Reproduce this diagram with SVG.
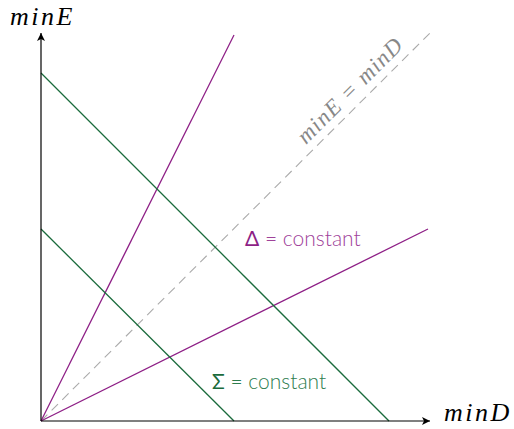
<svg xmlns="http://www.w3.org/2000/svg" width="514" height="429" viewBox="0 0 514 429">
<style>
.ax{stroke:#000;stroke-width:1.2;fill:none}
.pu{stroke:#8e1f86;stroke-width:1.3;fill:none}
.gr{stroke:#1a6b3c;stroke-width:1.3;fill:none}
.da{stroke:#aaa;stroke-width:1.1;stroke-dasharray:9,6;fill:none}
.m{font-family:"Liberation Serif",serif;font-style:italic;font-size:26px;letter-spacing:2.5px}
.r{font-family:"Liberation Serif",serif;font-style:italic;font-size:23px;letter-spacing:1.2px;fill:#888}
.l{font-family:"Lato","Open Sans",sans-serif;font-weight:300;font-size:21px}
</style>
<defs>
<marker id="ah" viewBox="0 0 10 10" refX="10" refY="5" markerWidth="8" markerHeight="8" markerUnits="userSpaceOnUse" orient="auto">
<path d="M0,0 L10,5 L0,10 L2.5,5 Z" fill="#000"/>
</marker>
</defs>
<rect width="514" height="429" fill="#fff"/>
<g id="connectors">
<line class="da" x1="41" y1="421" x2="430" y2="33"/>
<line class="pu" x1="41" y1="421" x2="234" y2="35"/>
<line class="pu" x1="41" y1="421" x2="428" y2="229"/>
<line class="gr" x1="41" y1="73" x2="389" y2="421"/>
<line class="gr" x1="41" y1="229" x2="234" y2="421"/>
<line class="ax" x1="41" y1="421" x2="41" y2="33" marker-end="url(#ah)"/>
<line class="ax" x1="41" y1="421" x2="430" y2="421" marker-end="url(#ah)"/>
</g>
<g id="labels">
<text class="m" x="10" y="25">minE</text>
<text class="m" x="444" y="421">minD</text>
<text class="r" x="0" y="0" transform="translate(306,145) rotate(-45)">minE = minD</text>
<text class="l" x="245" y="246" fill="#a0429a"><tspan fill="#8e1f86" font-weight="400">Δ</tspan> = constant</text>
<text class="l" x="212" y="389" fill="#2e7d4f"><tspan fill="#1a6b3c" font-weight="400">Σ</tspan> = constant</text>
</g>
</svg>
